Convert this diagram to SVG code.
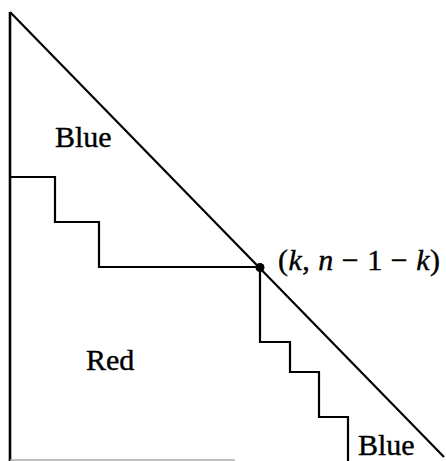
<svg xmlns="http://www.w3.org/2000/svg" width="446" height="461" viewBox="0 0 446 461">
<style>
.ln{fill:none;stroke:#000;stroke-width:2.2;stroke-linejoin:miter}
.lbl{font-family:"Liberation Serif","Times New Roman",serif;font-size:30px;fill:#000;stroke:#000;stroke-width:0.4}
</style>
<rect width="446" height="461" fill="#fff"/>
<g id="connectors">
<line class="ln" x1="10" y1="12" x2="10" y2="461" style="stroke-width:2.6"/>
<line class="ln" x1="10" y1="12" x2="444" y2="457"/>
<line x1="10" y1="460" x2="235" y2="460" stroke="#aaa" stroke-width="1.5"/>
<polyline class="ln" points="10,177 55,177 55,222 99,222 99,267 260,267"/>
<polyline class="ln" points="260,267 260,342 290,342 290,372 319,372 319,417 348,417 348,461"/>
</g>
<g id="point">
<circle cx="260" cy="267.5" r="4.5" fill="#000"/>
<text class="lbl" x="278" y="270" textLength="162" lengthAdjust="spacing">(<tspan font-style="italic">k</tspan>, <tspan font-style="italic">n</tspan> − 1 − <tspan font-style="italic">k</tspan>)</text>
</g>
<g id="blue-top"><text class="lbl" x="55" y="147">Blue</text></g>
<g id="red"><text class="lbl" x="86" y="370">Red</text></g>
<g id="blue-bottom"><text class="lbl" x="358" y="455">Blue</text></g>
</svg>
